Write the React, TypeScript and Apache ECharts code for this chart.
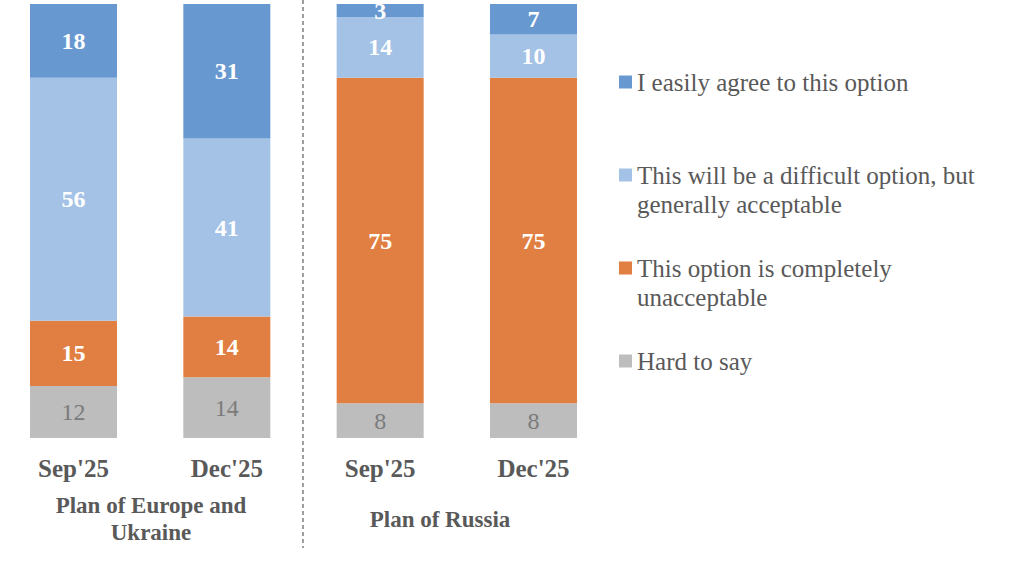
import React, { useEffect, useRef } from "react";
import * as echarts from "echarts";

const categories = ["Sep'25", "Dec'25", "Sep'25", "Dec'25"];
const seriesNames = [
  "Hard to say",
  "This option is completely unacceptable",
  "This will be a difficult option, but generally acceptable",
  "I easily agree to this option",
];
const hardToSay = [12, 14, 8, 8];
const unacceptable = [15, 14, 75, 75];
const difficult = [56, 41, 14, 10];
const easilyAgree = [18, 31, 3, 7];
const groupLabels = ["Plan of Europe and\nUkraine", "Plan of Russia"];
const legendOrder = [3, 2, 1, 0];
const legendWrapped: Record<string, string> = {
  "This will be a difficult option, but generally acceptable":
    "\nThis will be a difficult option, but\ngenerally acceptable",
  "This option is completely unacceptable": "\nThis option is completely\nunacceptable",
};

const COLORS = ["#bdbdbd", "#e07f41", "#a4c2e5", "#6798d0"];
const FONT = "Liberation Serif";
const OX = 40;

export default function App() {
  const ref = useRef<HTMLDivElement>(null);
  useEffect(() => {
    if (!ref.current) return;
    const chart = echarts.init(ref.current, null, { renderer: "svg" });
    const values = [hardToSay, unacceptable, difficult, easilyAgree];
    const series = values.map((data, i) => ({
      name: seriesNames[i],
      type: "bar",
      stack: "total",
      data,
      barWidth: 87,
      clip: true,
      itemStyle: { color: COLORS[i] },
      label: {
        show: true,
        position: "inside",
        color: i === 0 ? "#7b7b7b" : "#ffffff",
        fontWeight: i === 0 ? "normal" : "bold",
        fontSize: 24,
        fontFamily: FONT,
      },
    }));
    const legendTops = [67.5, 131.5, 224.5, 346.5];
    const legends = legendOrder.map((si, k) => {
      const name = seriesNames[si];
      return {
        data: [name],
        left: 619 + OX,
        top: legendTops[k],
        padding: 0,
        itemWidth: 13,
        itemHeight: 13,
        icon: "rect",
        selectedMode: false,
        formatter: (n: string) => legendWrapped[n] || n,
        textStyle: {
          color: "#595959",
          fontSize: 25,
          lineHeight: 29,
          fontFamily: FONT,
        },
      };
    });
    chart.setOption({
      animation: false,
      textStyle: { fontFamily: FONT },
      grid: { left: OX - 3.17, top: 4, width: 613.33, height: 434 },
      xAxis: {
        type: "category",
        data: categories,
        axisLine: { show: false },
        axisTick: { show: false },
        axisLabel: {
          margin: 18,
          color: "#595959",
          fontSize: 25,
          fontWeight: "bold",
          fontFamily: FONT,
        },
      },
      yAxis: { type: "value", min: 0, max: 100, show: false, splitLine: { show: false } },
      legend: legends,
      series,
      graphic: [
        {
          type: "line",
          shape: { x1: 303 + OX, y1: 0, x2: 303 + OX, y2: 548 },
          style: { stroke: "#7f7f7f", lineWidth: 1.5, lineDash: [4, 3] },
        },
        {
          type: "text",
          x: 151 + OX,
          y: 518.5,
          style: {
            text: groupLabels[0],
            align: "center",
            verticalAlign: "middle",
            fontSize: 23,
            lineHeight: 27,
            fontWeight: "bold",
            fontFamily: FONT,
            fill: "#595959",
          },
        },
        {
          type: "text",
          x: 440 + OX,
          y: 519,
          style: {
            text: groupLabels[1],
            align: "center",
            verticalAlign: "middle",
            fontSize: 23,
            fontWeight: "bold",
            fontFamily: FONT,
            fill: "#595959",
          },
        },
      ],
    });
    return () => chart.dispose();
  }, []);
  return (
    <div
      ref={ref}
      style={{ position: "absolute", left: -OX, top: 0, width: 1024 + OX, height: 571, background: "#fff" }}
    />
  );
}
